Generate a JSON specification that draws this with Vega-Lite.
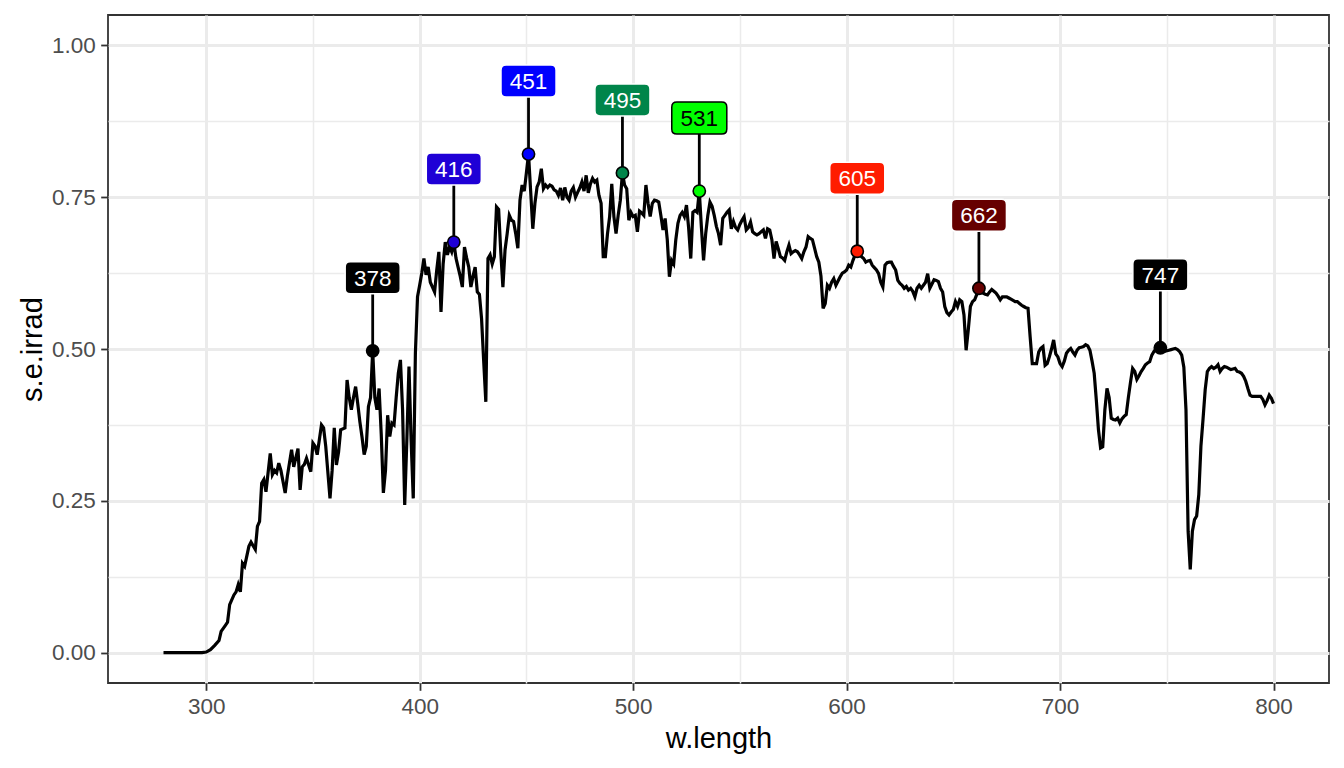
{
  "$schema": "https://vega.github.io/schema/vega-lite/v6.json",
  "width": 1221,
  "height": 668,
  "autosize": "none",
  "padding": {"left": 108, "top": 15, "right": 15, "bottom": 85},
  "background": "white",
  "config": {
    "view": {"stroke": "#333333", "strokeWidth": 1.8},
    "font": "Liberation Sans",
    "axis": {
      "domain": false,
      "labelFont": "Liberation Sans",
      "labelFontSize": 22.5,
      "labelColor": "#4d4d4d",
      "labelPadding": 5.5,
      "titleFont": "Liberation Sans",
      "titleFontSize": 29,
      "titleFontWeight": "normal",
      "titleColor": "black",
      "tickColor": "#333333",
      "tickSize": 7.3,
      "tickWidth": 1.8,
      "gridColor": "#ebebeb"
    }
  },
  "datasets": {
    "spectrum": [
      {"wl": 280, "irrad": 0}, {"wl": 285, "irrad": 0}, {"wl": 290, "irrad": 0}, {"wl": 295, "irrad": 0},
      {"wl": 298, "irrad": 0}, {"wl": 300, "irrad": 0.001}, {"wl": 302, "irrad": 0.005}, {"wl": 304, "irrad": 0.012},
      {"wl": 306, "irrad": 0.02}, {"wl": 307, "irrad": 0.035}, {"wl": 309, "irrad": 0.045}, {"wl": 310, "irrad": 0.05},
      {"wl": 311, "irrad": 0.079}, {"wl": 313, "irrad": 0.095}, {"wl": 314, "irrad": 0.1}, {"wl": 315, "irrad": 0.112},
      {"wl": 316, "irrad": 0.1}, {"wl": 317, "irrad": 0.147}, {"wl": 318, "irrad": 0.142}, {"wl": 320, "irrad": 0.175},
      {"wl": 321, "irrad": 0.182}, {"wl": 323, "irrad": 0.17}, {"wl": 324, "irrad": 0.208}, {"wl": 325, "irrad": 0.216},
      {"wl": 326, "irrad": 0.279}, {"wl": 327, "irrad": 0.285}, {"wl": 328, "irrad": 0.265}, {"wl": 330, "irrad": 0.328},
      {"wl": 331, "irrad": 0.293}, {"wl": 332, "irrad": 0.3}, {"wl": 333, "irrad": 0.296}, {"wl": 334, "irrad": 0.312},
      {"wl": 335, "irrad": 0.3}, {"wl": 337, "irrad": 0.263}, {"wl": 338, "irrad": 0.29}, {"wl": 340, "irrad": 0.334},
      {"wl": 341, "irrad": 0.306}, {"wl": 343, "irrad": 0.336}, {"wl": 344, "irrad": 0.268}, {"wl": 345, "irrad": 0.306},
      {"wl": 346, "irrad": 0.31}, {"wl": 347, "irrad": 0.32}, {"wl": 349, "irrad": 0.298}, {"wl": 350, "irrad": 0.345},
      {"wl": 351, "irrad": 0.34}, {"wl": 352, "irrad": 0.326}, {"wl": 354, "irrad": 0.375}, {"wl": 355, "irrad": 0.37},
      {"wl": 356, "irrad": 0.34}, {"wl": 358, "irrad": 0.254}, {"wl": 359, "irrad": 0.3}, {"wl": 360, "irrad": 0.37},
      {"wl": 361, "irrad": 0.309}, {"wl": 362, "irrad": 0.33}, {"wl": 363, "irrad": 0.367}, {"wl": 365, "irrad": 0.37},
      {"wl": 366, "irrad": 0.449}, {"wl": 367, "irrad": 0.42}, {"wl": 368, "irrad": 0.4}, {"wl": 369, "irrad": 0.42},
      {"wl": 370, "irrad": 0.438}, {"wl": 371, "irrad": 0.41}, {"wl": 372, "irrad": 0.38}, {"wl": 373, "irrad": 0.355},
      {"wl": 374, "irrad": 0.326}, {"wl": 375, "irrad": 0.34}, {"wl": 376, "irrad": 0.405}, {"wl": 377, "irrad": 0.42},
      {"wl": 378, "irrad": 0.497}, {"wl": 379, "irrad": 0.42}, {"wl": 380, "irrad": 0.4}, {"wl": 381, "irrad": 0.435},
      {"wl": 382, "irrad": 0.36}, {"wl": 383, "irrad": 0.263}, {"wl": 384, "irrad": 0.3}, {"wl": 385, "irrad": 0.391},
      {"wl": 386, "irrad": 0.356}, {"wl": 387, "irrad": 0.378}, {"wl": 388, "irrad": 0.375}, {"wl": 389, "irrad": 0.42},
      {"wl": 390, "irrad": 0.46}, {"wl": 391, "irrad": 0.482}, {"wl": 392, "irrad": 0.4}, {"wl": 393, "irrad": 0.243},
      {"wl": 394, "irrad": 0.35}, {"wl": 395, "irrad": 0.471}, {"wl": 396, "irrad": 0.35}, {"wl": 397, "irrad": 0.254},
      {"wl": 398, "irrad": 0.493}, {"wl": 399, "irrad": 0.586}, {"wl": 400, "irrad": 0.605}, {"wl": 401, "irrad": 0.625},
      {"wl": 402, "irrad": 0.649}, {"wl": 403, "irrad": 0.622}, {"wl": 404, "irrad": 0.635}, {"wl": 405, "irrad": 0.61},
      {"wl": 406, "irrad": 0.602}, {"wl": 407, "irrad": 0.594}, {"wl": 408, "irrad": 0.63}, {"wl": 409, "irrad": 0.66},
      {"wl": 410, "irrad": 0.561}, {"wl": 411, "irrad": 0.64}, {"wl": 412, "irrad": 0.676}, {"wl": 413, "irrad": 0.655},
      {"wl": 414, "irrad": 0.668}, {"wl": 415, "irrad": 0.66}, {"wl": 416, "irrad": 0.676}, {"wl": 417, "irrad": 0.65},
      {"wl": 418, "irrad": 0.635}, {"wl": 419, "irrad": 0.62}, {"wl": 420, "irrad": 0.602}, {"wl": 421, "irrad": 0.668},
      {"wl": 422, "irrad": 0.65}, {"wl": 423, "irrad": 0.635}, {"wl": 424, "irrad": 0.602}, {"wl": 425, "irrad": 0.62},
      {"wl": 426, "irrad": 0.635}, {"wl": 427, "irrad": 0.594}, {"wl": 428, "irrad": 0.59}, {"wl": 429, "irrad": 0.55},
      {"wl": 430, "irrad": 0.48}, {"wl": 431, "irrad": 0.413}, {"wl": 432, "irrad": 0.649}, {"wl": 433, "irrad": 0.655},
      {"wl": 434, "irrad": 0.64}, {"wl": 435, "irrad": 0.652}, {"wl": 436, "irrad": 0.734}, {"wl": 437, "irrad": 0.73},
      {"wl": 438, "irrad": 0.66}, {"wl": 439, "irrad": 0.602}, {"wl": 440, "irrad": 0.663}, {"wl": 441, "irrad": 0.69},
      {"wl": 442, "irrad": 0.72}, {"wl": 443, "irrad": 0.712}, {"wl": 444, "irrad": 0.71}, {"wl": 445, "irrad": 0.69},
      {"wl": 446, "irrad": 0.666}, {"wl": 447, "irrad": 0.745}, {"wl": 448, "irrad": 0.77}, {"wl": 449, "irrad": 0.76},
      {"wl": 450, "irrad": 0.79}, {"wl": 451, "irrad": 0.821}, {"wl": 452, "irrad": 0.76}, {"wl": 453, "irrad": 0.698},
      {"wl": 454, "irrad": 0.74}, {"wl": 455, "irrad": 0.767}, {"wl": 456, "irrad": 0.775}, {"wl": 457, "irrad": 0.797},
      {"wl": 458, "irrad": 0.764}, {"wl": 459, "irrad": 0.77}, {"wl": 460, "irrad": 0.766}, {"wl": 461, "irrad": 0.77},
      {"wl": 462, "irrad": 0.768}, {"wl": 463, "irrad": 0.762}, {"wl": 464, "irrad": 0.76}, {"wl": 465, "irrad": 0.753},
      {"wl": 466, "irrad": 0.765}, {"wl": 467, "irrad": 0.745}, {"wl": 468, "irrad": 0.766}, {"wl": 469, "irrad": 0.75},
      {"wl": 470, "irrad": 0.745}, {"wl": 471, "irrad": 0.76}, {"wl": 472, "irrad": 0.766}, {"wl": 473, "irrad": 0.75},
      {"wl": 474, "irrad": 0.758}, {"wl": 475, "irrad": 0.765}, {"wl": 476, "irrad": 0.775}, {"wl": 477, "irrad": 0.76},
      {"wl": 478, "irrad": 0.786}, {"wl": 479, "irrad": 0.757}, {"wl": 480, "irrad": 0.772}, {"wl": 481, "irrad": 0.781},
      {"wl": 482, "irrad": 0.775}, {"wl": 483, "irrad": 0.778}, {"wl": 484, "irrad": 0.753}, {"wl": 485, "irrad": 0.74},
      {"wl": 486, "irrad": 0.652}, {"wl": 487, "irrad": 0.652}, {"wl": 488, "irrad": 0.69}, {"wl": 489, "irrad": 0.718},
      {"wl": 490, "irrad": 0.772}, {"wl": 491, "irrad": 0.718}, {"wl": 492, "irrad": 0.69}, {"wl": 493, "irrad": 0.72},
      {"wl": 494, "irrad": 0.745}, {"wl": 495, "irrad": 0.79}, {"wl": 496, "irrad": 0.77}, {"wl": 497, "irrad": 0.764},
      {"wl": 498, "irrad": 0.712}, {"wl": 499, "irrad": 0.725}, {"wl": 500, "irrad": 0.718}, {"wl": 501, "irrad": 0.72},
      {"wl": 502, "irrad": 0.693}, {"wl": 503, "irrad": 0.727}, {"wl": 504, "irrad": 0.724}, {"wl": 505, "irrad": 0.72},
      {"wl": 506, "irrad": 0.77}, {"wl": 507, "irrad": 0.74}, {"wl": 508, "irrad": 0.718}, {"wl": 509, "irrad": 0.74},
      {"wl": 510, "irrad": 0.745}, {"wl": 511, "irrad": 0.744}, {"wl": 512, "irrad": 0.742}, {"wl": 513, "irrad": 0.72},
      {"wl": 514, "irrad": 0.696}, {"wl": 515, "irrad": 0.715}, {"wl": 516, "irrad": 0.68}, {"wl": 517, "irrad": 0.619},
      {"wl": 518, "irrad": 0.646}, {"wl": 519, "irrad": 0.64}, {"wl": 520, "irrad": 0.68}, {"wl": 521, "irrad": 0.707},
      {"wl": 522, "irrad": 0.72}, {"wl": 523, "irrad": 0.725}, {"wl": 524, "irrad": 0.718}, {"wl": 525, "irrad": 0.737},
      {"wl": 526, "irrad": 0.7}, {"wl": 527, "irrad": 0.649}, {"wl": 528, "irrad": 0.725}, {"wl": 529, "irrad": 0.728},
      {"wl": 530, "irrad": 0.725}, {"wl": 531, "irrad": 0.76}, {"wl": 532, "irrad": 0.7}, {"wl": 533, "irrad": 0.646},
      {"wl": 534, "irrad": 0.69}, {"wl": 535, "irrad": 0.72}, {"wl": 536, "irrad": 0.742}, {"wl": 537, "irrad": 0.735},
      {"wl": 538, "irrad": 0.72}, {"wl": 539, "irrad": 0.702}, {"wl": 540, "irrad": 0.69}, {"wl": 541, "irrad": 0.671},
      {"wl": 542, "irrad": 0.715}, {"wl": 543, "irrad": 0.72}, {"wl": 544, "irrad": 0.725}, {"wl": 545, "irrad": 0.729},
      {"wl": 546, "irrad": 0.698}, {"wl": 547, "irrad": 0.71}, {"wl": 548, "irrad": 0.7}, {"wl": 549, "irrad": 0.696},
      {"wl": 550, "irrad": 0.705}, {"wl": 551, "irrad": 0.712}, {"wl": 552, "irrad": 0.718}, {"wl": 553, "irrad": 0.696},
      {"wl": 554, "irrad": 0.7}, {"wl": 555, "irrad": 0.709}, {"wl": 556, "irrad": 0.693}, {"wl": 557, "irrad": 0.69},
      {"wl": 558, "irrad": 0.688}, {"wl": 559, "irrad": 0.69}, {"wl": 560, "irrad": 0.693}, {"wl": 561, "irrad": 0.696},
      {"wl": 562, "irrad": 0.682}, {"wl": 563, "irrad": 0.698}, {"wl": 564, "irrad": 0.696}, {"wl": 565, "irrad": 0.68},
      {"wl": 566, "irrad": 0.649}, {"wl": 567, "irrad": 0.677}, {"wl": 568, "irrad": 0.665}, {"wl": 569, "irrad": 0.652},
      {"wl": 570, "irrad": 0.65}, {"wl": 571, "irrad": 0.646}, {"wl": 572, "irrad": 0.66}, {"wl": 573, "irrad": 0.671},
      {"wl": 574, "irrad": 0.657}, {"wl": 575, "irrad": 0.66}, {"wl": 576, "irrad": 0.662}, {"wl": 577, "irrad": 0.66},
      {"wl": 578, "irrad": 0.655}, {"wl": 579, "irrad": 0.649}, {"wl": 580, "irrad": 0.66}, {"wl": 581, "irrad": 0.668},
      {"wl": 582, "irrad": 0.685}, {"wl": 583, "irrad": 0.682}, {"wl": 584, "irrad": 0.68}, {"wl": 585, "irrad": 0.666},
      {"wl": 586, "irrad": 0.652}, {"wl": 587, "irrad": 0.643}, {"wl": 588, "irrad": 0.62}, {"wl": 589, "irrad": 0.567},
      {"wl": 590, "irrad": 0.575}, {"wl": 591, "irrad": 0.605}, {"wl": 592, "irrad": 0.6}, {"wl": 593, "irrad": 0.61},
      {"wl": 594, "irrad": 0.616}, {"wl": 595, "irrad": 0.605}, {"wl": 596, "irrad": 0.612}, {"wl": 597, "irrad": 0.619},
      {"wl": 598, "irrad": 0.625}, {"wl": 599, "irrad": 0.627}, {"wl": 600, "irrad": 0.63}, {"wl": 601, "irrad": 0.638},
      {"wl": 602, "irrad": 0.635}, {"wl": 603, "irrad": 0.646}, {"wl": 604, "irrad": 0.655}, {"wl": 605, "irrad": 0.661},
      {"wl": 606, "irrad": 0.657}, {"wl": 607, "irrad": 0.652}, {"wl": 608, "irrad": 0.649}, {"wl": 609, "irrad": 0.643},
      {"wl": 610, "irrad": 0.645}, {"wl": 611, "irrad": 0.646}, {"wl": 612, "irrad": 0.638}, {"wl": 613, "irrad": 0.634},
      {"wl": 614, "irrad": 0.63}, {"wl": 615, "irrad": 0.624}, {"wl": 616, "irrad": 0.61}, {"wl": 617, "irrad": 0.602},
      {"wl": 618, "irrad": 0.638}, {"wl": 619, "irrad": 0.642}, {"wl": 620, "irrad": 0.643}, {"wl": 621, "irrad": 0.643},
      {"wl": 622, "irrad": 0.636}, {"wl": 623, "irrad": 0.63}, {"wl": 624, "irrad": 0.613}, {"wl": 625, "irrad": 0.608},
      {"wl": 626, "irrad": 0.605}, {"wl": 627, "irrad": 0.6}, {"wl": 628, "irrad": 0.603}, {"wl": 629, "irrad": 0.597},
      {"wl": 630, "irrad": 0.6}, {"wl": 631, "irrad": 0.595}, {"wl": 632, "irrad": 0.586}, {"wl": 633, "irrad": 0.6},
      {"wl": 634, "irrad": 0.605}, {"wl": 635, "irrad": 0.6}, {"wl": 636, "irrad": 0.605}, {"wl": 637, "irrad": 0.61},
      {"wl": 638, "irrad": 0.624}, {"wl": 639, "irrad": 0.6}, {"wl": 640, "irrad": 0.607}, {"wl": 641, "irrad": 0.614},
      {"wl": 642, "irrad": 0.613}, {"wl": 643, "irrad": 0.611}, {"wl": 644, "irrad": 0.6}, {"wl": 645, "irrad": 0.594},
      {"wl": 646, "irrad": 0.57}, {"wl": 647, "irrad": 0.56}, {"wl": 648, "irrad": 0.556}, {"wl": 649, "irrad": 0.561},
      {"wl": 650, "irrad": 0.565}, {"wl": 651, "irrad": 0.578}, {"wl": 652, "irrad": 0.57}, {"wl": 653, "irrad": 0.581},
      {"wl": 654, "irrad": 0.578}, {"wl": 655, "irrad": 0.556}, {"wl": 656, "irrad": 0.498}, {"wl": 657, "irrad": 0.531},
      {"wl": 658, "irrad": 0.57}, {"wl": 659, "irrad": 0.578}, {"wl": 660, "irrad": 0.581}, {"wl": 661, "irrad": 0.59},
      {"wl": 662, "irrad": 0.6}, {"wl": 663, "irrad": 0.596}, {"wl": 664, "irrad": 0.592}, {"wl": 665, "irrad": 0.59},
      {"wl": 666, "irrad": 0.589}, {"wl": 667, "irrad": 0.594}, {"wl": 668, "irrad": 0.598}, {"wl": 669, "irrad": 0.595},
      {"wl": 670, "irrad": 0.592}, {"wl": 671, "irrad": 0.587}, {"wl": 672, "irrad": 0.581}, {"wl": 673, "irrad": 0.586},
      {"wl": 674, "irrad": 0.586}, {"wl": 675, "irrad": 0.586}, {"wl": 676, "irrad": 0.584}, {"wl": 677, "irrad": 0.582},
      {"wl": 678, "irrad": 0.58}, {"wl": 679, "irrad": 0.578}, {"wl": 680, "irrad": 0.578}, {"wl": 681, "irrad": 0.575},
      {"wl": 682, "irrad": 0.572}, {"wl": 683, "irrad": 0.57}, {"wl": 684, "irrad": 0.568}, {"wl": 685, "irrad": 0.567},
      {"wl": 686, "irrad": 0.52}, {"wl": 687, "irrad": 0.476}, {"wl": 688, "irrad": 0.476}, {"wl": 689, "irrad": 0.476},
      {"wl": 690, "irrad": 0.495}, {"wl": 691, "irrad": 0.501}, {"wl": 692, "irrad": 0.504}, {"wl": 693, "irrad": 0.473},
      {"wl": 694, "irrad": 0.476}, {"wl": 695, "irrad": 0.487}, {"wl": 696, "irrad": 0.5}, {"wl": 697, "irrad": 0.515},
      {"wl": 698, "irrad": 0.492}, {"wl": 699, "irrad": 0.487}, {"wl": 700, "irrad": 0.476}, {"wl": 701, "irrad": 0.471},
      {"wl": 702, "irrad": 0.48}, {"wl": 703, "irrad": 0.493}, {"wl": 704, "irrad": 0.498}, {"wl": 705, "irrad": 0.501},
      {"wl": 706, "irrad": 0.495}, {"wl": 707, "irrad": 0.49}, {"wl": 708, "irrad": 0.498}, {"wl": 709, "irrad": 0.502},
      {"wl": 710, "irrad": 0.503}, {"wl": 711, "irrad": 0.504}, {"wl": 712, "irrad": 0.507}, {"wl": 713, "irrad": 0.505},
      {"wl": 714, "irrad": 0.498}, {"wl": 715, "irrad": 0.48}, {"wl": 716, "irrad": 0.46}, {"wl": 717, "irrad": 0.416},
      {"wl": 718, "irrad": 0.367}, {"wl": 719, "irrad": 0.337}, {"wl": 720, "irrad": 0.339}, {"wl": 721, "irrad": 0.4},
      {"wl": 722, "irrad": 0.435}, {"wl": 723, "irrad": 0.42}, {"wl": 724, "irrad": 0.386}, {"wl": 725, "irrad": 0.384},
      {"wl": 726, "irrad": 0.383}, {"wl": 727, "irrad": 0.386}, {"wl": 728, "irrad": 0.378}, {"wl": 729, "irrad": 0.385},
      {"wl": 730, "irrad": 0.389}, {"wl": 731, "irrad": 0.392}, {"wl": 732, "irrad": 0.42}, {"wl": 733, "irrad": 0.445},
      {"wl": 734, "irrad": 0.468}, {"wl": 735, "irrad": 0.463}, {"wl": 736, "irrad": 0.45}, {"wl": 737, "irrad": 0.456},
      {"wl": 738, "irrad": 0.463}, {"wl": 739, "irrad": 0.468}, {"wl": 740, "irrad": 0.474}, {"wl": 741, "irrad": 0.477},
      {"wl": 742, "irrad": 0.479}, {"wl": 743, "irrad": 0.49}, {"wl": 744, "irrad": 0.496}, {"wl": 745, "irrad": 0.5},
      {"wl": 746, "irrad": 0.504}, {"wl": 747, "irrad": 0.502}, {"wl": 748, "irrad": 0.5}, {"wl": 749, "irrad": 0.496},
      {"wl": 750, "irrad": 0.497}, {"wl": 751, "irrad": 0.498}, {"wl": 752, "irrad": 0.499}, {"wl": 753, "irrad": 0.5},
      {"wl": 754, "irrad": 0.501}, {"wl": 755, "irrad": 0.499}, {"wl": 756, "irrad": 0.496}, {"wl": 757, "irrad": 0.49},
      {"wl": 758, "irrad": 0.47}, {"wl": 759, "irrad": 0.4}, {"wl": 760, "irrad": 0.2}, {"wl": 761, "irrad": 0.137},
      {"wl": 762, "irrad": 0.2}, {"wl": 763, "irrad": 0.219}, {"wl": 764, "irrad": 0.225}, {"wl": 765, "irrad": 0.26},
      {"wl": 766, "irrad": 0.34}, {"wl": 767, "irrad": 0.385}, {"wl": 768, "irrad": 0.433}, {"wl": 769, "irrad": 0.463},
      {"wl": 770, "irrad": 0.468}, {"wl": 771, "irrad": 0.471}, {"wl": 772, "irrad": 0.468}, {"wl": 773, "irrad": 0.47},
      {"wl": 774, "irrad": 0.474}, {"wl": 775, "irrad": 0.463}, {"wl": 776, "irrad": 0.468}, {"wl": 777, "irrad": 0.471},
      {"wl": 778, "irrad": 0.47}, {"wl": 779, "irrad": 0.468}, {"wl": 780, "irrad": 0.466}, {"wl": 781, "irrad": 0.467},
      {"wl": 782, "irrad": 0.468}, {"wl": 783, "irrad": 0.463}, {"wl": 784, "irrad": 0.462}, {"wl": 785, "irrad": 0.46},
      {"wl": 786, "irrad": 0.455}, {"wl": 787, "irrad": 0.447}, {"wl": 788, "irrad": 0.435}, {"wl": 789, "irrad": 0.424},
      {"wl": 790, "irrad": 0.422}, {"wl": 791, "irrad": 0.422}, {"wl": 792, "irrad": 0.422}, {"wl": 793, "irrad": 0.422},
      {"wl": 794, "irrad": 0.422}, {"wl": 795, "irrad": 0.417}, {"wl": 796, "irrad": 0.408}, {"wl": 797, "irrad": 0.415},
      {"wl": 798, "irrad": 0.424}, {"wl": 799, "irrad": 0.419}, {"wl": 800, "irrad": 0.41}
    ],
    "peaks": [
      {"wl": 378, "irrad": 0.497},
      {"wl": 416, "irrad": 0.676},
      {"wl": 451, "irrad": 0.821},
      {"wl": 495, "irrad": 0.79},
      {"wl": 531, "irrad": 0.76},
      {"wl": 605, "irrad": 0.661},
      {"wl": 662, "irrad": 0.6},
      {"wl": 747, "irrad": 0.502}
    ]
  },
  "encoding": {
    "x": {
      "field": "wl",
      "type": "quantitative",
      "title": "w.length",
      "scale": {"domain": [254, 826], "nice": false, "zero": false},
      "axis": {
        "values": [300, 350, 400, 450, 500, 550, 600, 650, 700, 750, 800],
        "labelExpr": "datum.value % 100 === 0 ? datum.label : ''",
        "gridWidth": {"condition": {"test": "datum.value % 100 !== 0", "value": 1.5}, "value": 3},
        "tickOpacity": {"condition": {"test": "datum.value % 100 !== 0", "value": 0}, "value": 1},
        "titlePadding": 6
      }
    },
    "y": {
      "field": "irrad",
      "type": "quantitative",
      "title": "s.e.irrad",
      "scale": {"domain": [-0.05, 1.05], "nice": false, "zero": false},
      "axis": {
        "values": [0, 0.125, 0.25, 0.375, 0.5, 0.625, 0.75, 0.875, 1],
        "labelExpr": "(datum.value * 4) % 1 === 0 ? format(datum.value, '.2f') : ''",
        "gridWidth": {"condition": {"test": "(datum.value * 4) % 1 !== 0", "value": 1.5}, "value": 3},
        "tickOpacity": {"condition": {"test": "(datum.value * 4) % 1 !== 0", "value": 0}, "value": 1},
        "titlePadding": 4
      }
    }
  },
  "layer": [
    {
      "data": {"name": "spectrum"},
      "mark": {"type": "line", "color": "black", "strokeWidth": 3.2}
    },
    {
      "data": {"name": "peaks"},
      "mark": {"type": "rule", "color": "black", "strokeWidth": 2.8, "y2Offset": -73},
      "encoding": {"y2": {"field": "irrad"}}
    },
    {
      "data": {"name": "peaks"},
      "mark": {
        "type": "point",
        "shape": "M-1.4,-1 L1.4,-1 Q1.72,-1 1.72,-0.68 L1.72,0.68 Q1.72,1 1.4,1 L-1.4,1 Q-1.72,1 -1.72,0.68 L-1.72,-0.68 Q-1.72,-1 -1.4,-1 Z",
        "size": 1024,
        "filled": true,
        "opacity": 1,
        "strokeWidth": 1.5,
        "yOffset": -73
      },
      "encoding": {
        "fill": {
          "field": "wl",
          "type": "nominal",
          "scale": {
            "domain": [378, 416, 451, 495, 531, 605, 662, 747],
            "range": ["#000000", "#1f00d6", "#0000ff", "#00854a", "#00ff00", "#ff1c00", "#660000", "#000000"]
          },
          "legend": null
        },
        "stroke": {"condition": {"test": "datum.wl === 531", "value": "black"}, "value": "white"}
      }
    },
    {
      "data": {"name": "peaks"},
      "mark": {"type": "text", "fontSize": 22.5, "font": "Liberation Sans", "baseline": "middle", "align": "center", "yOffset": -72},
      "encoding": {
        "text": {"field": "wl", "type": "quantitative"},
        "color": {"condition": {"test": "datum.wl === 531", "value": "black"}, "value": "white"}
      }
    },
    {
      "data": {"name": "peaks"},
      "mark": {"type": "circle", "size": 150, "opacity": 1, "stroke": "black", "strokeWidth": 1.6},
      "encoding": {
        "fill": {"field": "wl", "type": "nominal", "legend": null}
      }
    }
  ]
}
